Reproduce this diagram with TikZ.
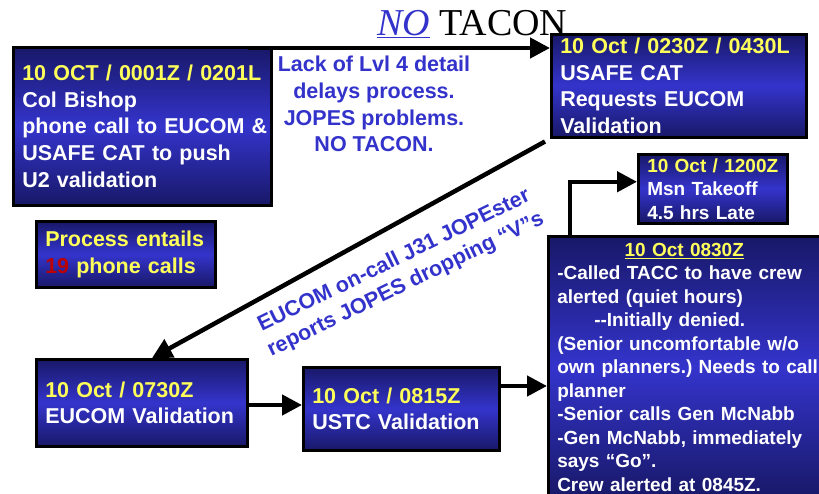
\documentclass[tikz,border=0pt]{standalone}
\usepackage{fontspec}
\setmainfont{Liberation Sans}
\newfontfamily\titlefont{Liberation Serif}
\usetikzlibrary{arrows.meta}

\definecolor{navy}{RGB}{24,24,104}
\definecolor{midblue}{RGB}{52,52,204}
\definecolor{tblue}{RGB}{51,51,204}
\definecolor{tyellow}{RGB}{255,255,90}
\definecolor{tred}{RGB}{190,0,0}

\begin{document}
\begin{tikzpicture}[x=1pt, y=-1pt,
  box/.style={draw=black, line width=2.5pt, top color=navy, bottom color=navy, middle color=midblue,
    anchor=north west, align=left, text=white, inner xsep=9pt, inner ysep=2pt,
    font=\bfseries\fontsize{21.5}{26.7}\selectfont},
  smallbox/.style={font=\bfseries\fontsize{19}{23.5}\selectfont},
  note/.style={text=tblue, align=center, inner sep=0pt, font=\bfseries\fontsize{21.5}{26.7}\selectfont},
  arr/.style={line width=4.5pt, -{Triangle[length=20pt, width=20pt]}}]
  \useasboundingbox[fill=white] (0,0) rectangle (819,493);

  \node[anchor=base west, inner sep=0pt, font=\titlefont\fontsize{38}{40}\selectfont] (title) at (377,35)
    {\textcolor{tblue}{\underline{\textit{NO}}} TACON};

  \node[box, minimum width=258pt, minimum height=158pt, text width=240pt] (col) at (12,46)
    {\textcolor{tyellow}{10 OCT / 0001Z / 0201L}\\Col Bishop\\\makebox[238pt][l]{phone call to EUCOM \&}\\USAFE CAT to push\\U2 validation};
  \node[box, minimum width=255pt, minimum height=103pt, text width=237pt] (cat) at (550,33)
    {\textcolor{tyellow}{10 Oct / 0230Z / 0430L}\\USAFE CAT\\Requests EUCOM\\Validation};
  \node[box, smallbox, minimum width=149pt, minimum height=69pt, text width=131pt] (take) at (637,153)
    {\textcolor{tyellow}{10 Oct / 1200Z}\\Msn Takeoff\\4.5 hrs Late};
  \node[box, smallbox, minimum width=272pt, minimum height=262pt, text width=254pt] (sched) at (547,235)
    {\makebox[254pt]{\textcolor{tyellow}{\underline{10 Oct 0830Z}}}\\
     -Called TACC to have crew\\alerted (quiet hours)\\\hspace*{37pt}-{}-Initially denied.\\
     (Senior uncomfortable w/o\\\makebox[250pt][l]{own planners.)\ Needs to call}\\planner\\
     -Senior calls Gen McNabb\\-Gen McNabb, immediately\\says “Go”.\\Crew alerted at 0845Z.};
  \node[box, minimum width=179pt, minimum height=66pt, text width=161pt, text=tyellow] (proc) at (35,220)
    {Process entails\\\textcolor{tred}{19} phone calls};
  \node[box, minimum width=211pt, minimum height=87pt, text width=193pt] (eucom) at (35,358)
    {\textcolor{tyellow}{10 Oct / 0730Z}\\EUCOM Validation};
  \node[box, minimum width=196pt, minimum height=83pt, text width=178pt] (ustc) at (302,366)
    {\textcolor{tyellow}{10 Oct / 0815Z}\\USTC Validation};

  \node[note] (lack) at (374,104) {Lack of Lvl 4 detail\\delays process.\\JOPES problems.\\NO TACON.};
  \node[note, rotate=26] (jopes) at (400,273) {EUCOM on-call J31 JOPEster\\reports JOPES dropping “V”s};

  \draw[arr] ([xshift=-25pt, yshift=-2pt]col.north east) -- (cat.west |- 0,48);
  \draw[arr] ([shift={(-5,3)}]cat.south west) -- ([xshift=117pt]eucom.north west);
  \draw[arr] ([xshift=23pt]sched.north west) |- ([yshift=7pt]take.west);
  \draw[arr] (eucom.east |- 0,405) -- (ustc.west |- 0,405);
  \draw[arr] (ustc.east |- 0,386) -- (sched.west |- 0,386);
\end{tikzpicture}
\end{document}
